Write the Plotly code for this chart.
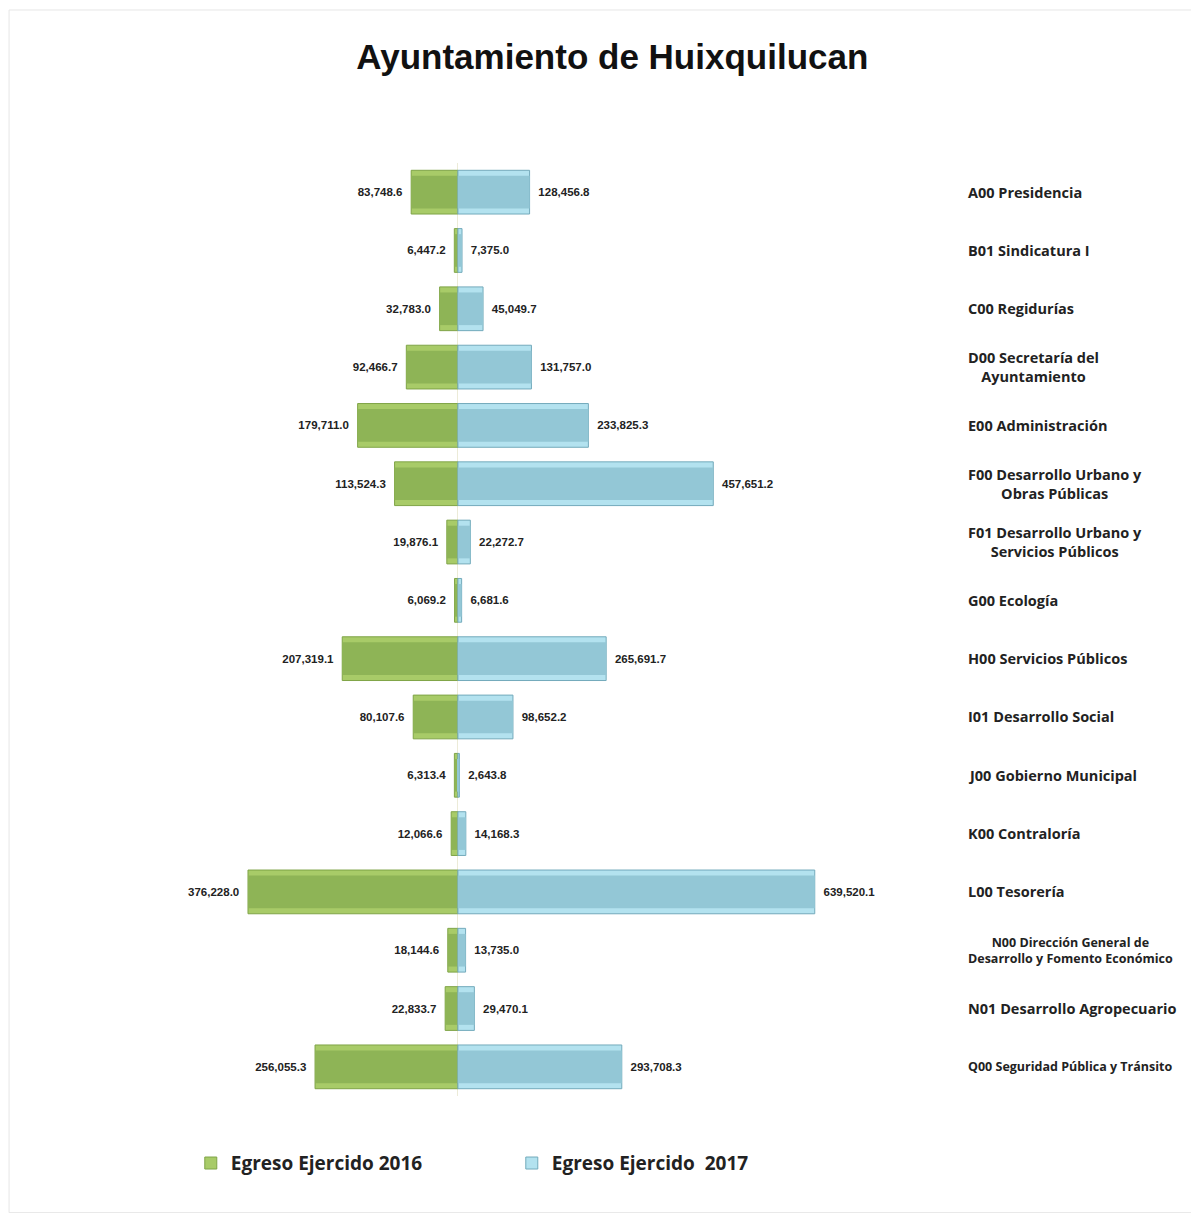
import plotly.graph_objects as go

categories = [
    "A00 Presidencia", "B01 Sindicatura I", "C00 Regidurías",
    "D00 Secretaría del<br>Ayuntamiento", "E00 Administración",
    "F00 Desarrollo Urbano y<br>Obras Públicas",
    "F01 Desarrollo Urbano y<br>Servicios Públicos", "G00 Ecología",
    "H00 Servicios Públicos", "I01 Desarrollo Social",
    "J00 Gobierno Municipal", "K00 Contraloría", "L00 Tesorería",
    "N00 Dirección General de<br>Desarrollo y Fomento Económico",
    "N01 Desarrollo Agropecuario", "Q00 Seguridad Pública y Tránsito",
]
egreso_2016 = [83748.6, 6447.2, 32783.0, 92466.7, 179711.0, 113524.3, 19876.1, 6069.2,
               207319.1, 80107.6, 6313.4, 12066.6, 376228.0, 18144.6, 22833.7, 256055.3]
egreso_2017 = [128456.8, 7375.0, 45049.7, 131757.0, 233825.3, 457651.2, 22272.7, 6681.6,
               265691.7, 98652.2, 2643.8, 14168.3, 639520.1, 13735.0, 29470.1, 293708.3]

neg_2016 = [-v for v in egreso_2016]
num_font = dict(family="Liberation Sans", size=11.5, color="#222222", weight="bold")

fig = go.Figure()

# 2016 (left side, drawn as negative)
fig.add_trace(go.Bar(y=categories, x=neg_2016, orientation="h", width=0.75,
                     name="Egreso Ejercido 2016", customdata=egreso_2016,
                     marker=dict(color="#A8CB68", line=dict(color="#7FA447", width=1)),
                     texttemplate="%{customdata:,.1f}\u2002", textposition="outside",
                     textfont=num_font, constraintext="none", cliponaxis=False))
fig.add_trace(go.Bar(y=categories, x=neg_2016, orientation="h", width=0.56,
                     showlegend=False, hoverinfo="skip",
                     marker=dict(color="#8EB456", line=dict(width=0))))

# 2017 (right side)
fig.add_trace(go.Bar(y=categories, x=egreso_2017, orientation="h", width=0.75,
                     name="Egreso Ejercido  2017",
                     marker=dict(color="#B3E2EF", line=dict(color="#73AABB", width=1)),
                     texttemplate="\u2002%{x:,.1f}", textposition="outside",
                     textfont=num_font, constraintext="none", cliponaxis=False))
fig.add_trace(go.Bar(y=categories, x=egreso_2017, orientation="h", width=0.56,
                     showlegend=False, hoverinfo="skip",
                     marker=dict(color="#93C7D6", line=dict(width=0))))

# category labels on the right (the two longest ones a bit smaller so they fit)
for cat in categories:
    size = 12.5 if (cat.startswith("N00") or cat.startswith("Q00")) else 14.5
    fig.add_annotation(x=1.034, y=cat, xref="paper", yref="y", text=cat,
                       showarrow=False, xanchor="left", align="center",
                       font=dict(family="Open Sans", size=size, color="#222222", weight="bold"))

# faint outer frame
fig.add_shape(type="rect", xref="paper", yref="paper",
              x0=-0.209, x1=1.36, y0=-0.125, y1=1.164,
              line=dict(color="#E6E6E6", width=1))

fig.update_layout(
    width=1199, height=1213,
    barmode="overlay",
    plot_bgcolor="white", paper_bgcolor="white",
    margin=dict(l=162, r=267, t=155, b=125),
    title=dict(text="<b>Ayuntamiento de Huixquilucan</b>", x=0.504, xanchor="center",
               y=0.96, yanchor="middle",
               font=dict(family="Liberation Sans", size=35, color="#111111")),
    legend=dict(orientation="h", x=0.027, xanchor="left", y=-0.072, yanchor="middle",
                entrywidth=276, entrywidthmode="pixels",
                font=dict(family="Open Sans", size=19, color="#222222", weight="bold")),
    showlegend=True,
)
fig.update_xaxes(range=[-516000, 864000], showgrid=False, showticklabels=False,
                 zeroline=True, zerolinecolor="#ECEBD8", zerolinewidth=1, fixedrange=True)
fig.update_yaxes(autorange="reversed", showgrid=False, showticklabels=False,
                 zeroline=False, fixedrange=True)

fig.write_html("out.html")
